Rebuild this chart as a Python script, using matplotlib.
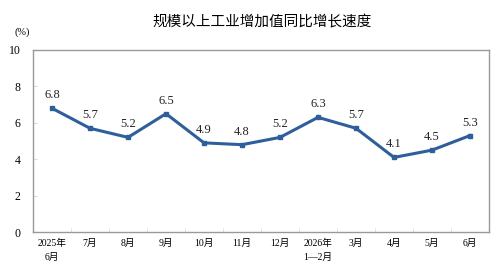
import matplotlib
matplotlib.use("Agg")
import matplotlib.pyplot as plt

months = ["2025年\n6月", "7月", "8月", "9月", "10月", "11月", "12月",
          "2026年\n1—2月", "3月", "4月", "5月", "6月"]
growth = [6.8, 5.7, 5.2, 6.5, 4.9, 4.8, 5.2, 6.3, 5.7, 4.1, 4.5, 5.3]
yticks = [0, 2, 4, 6, 8, 10]

serif = ["Liberation Serif", "Noto Sans CJK SC", "DejaVu Sans"]
plt.rcParams["font.family"] = serif

fig = plt.figure(figsize=(5, 2.76), dpi=100)
ax = fig.add_axes([0.066, 0.159, 0.912, 0.66])

x = list(range(len(growth)))
ax.plot(x, growth, color="#2e5f9a", linewidth=2.2, marker="s", markersize=3.5)
for xi, v in zip(x, growth):
    ax.annotate(f"{v:.1f}", (xi, v), xytext=(0, 5), textcoords="offset points",
                ha="center", va="bottom", fontsize=9, color="#222222")

ax.set_xlim(-0.5, len(growth) - 0.5)
ax.set_ylim(0, 10)
ax.set_yticks(yticks)
ax.set_yticklabels([str(t) for t in yticks], fontsize=8.5)
ax.set_xticks(x)
ax.set_xticklabels(months, fontsize=7, linespacing=1.6)
ax.set_xticks([i + 0.5 for i in x[:-1]], minor=True)
ax.tick_params(axis="x", which="major", length=0, pad=5)
ax.tick_params(axis="x", which="minor", direction="in", length=3, color="#dddddd")
ax.tick_params(axis="y", direction="in", length=3, color="#dddddd", pad=9)
for s in ax.spines.values():
    s.set_color("#999999")
    s.set_linewidth(1)

fig.text(0.524, 0.92, "规模以上工业增加值同比增长速度", ha="center", va="center",
         fontsize=10.5, family=["Noto Sans CJK SC"])
fig.text(0.044, 0.885, "(%)", ha="center", va="center", fontsize=7.5)

fig.savefig("out.png", dpi=100)
